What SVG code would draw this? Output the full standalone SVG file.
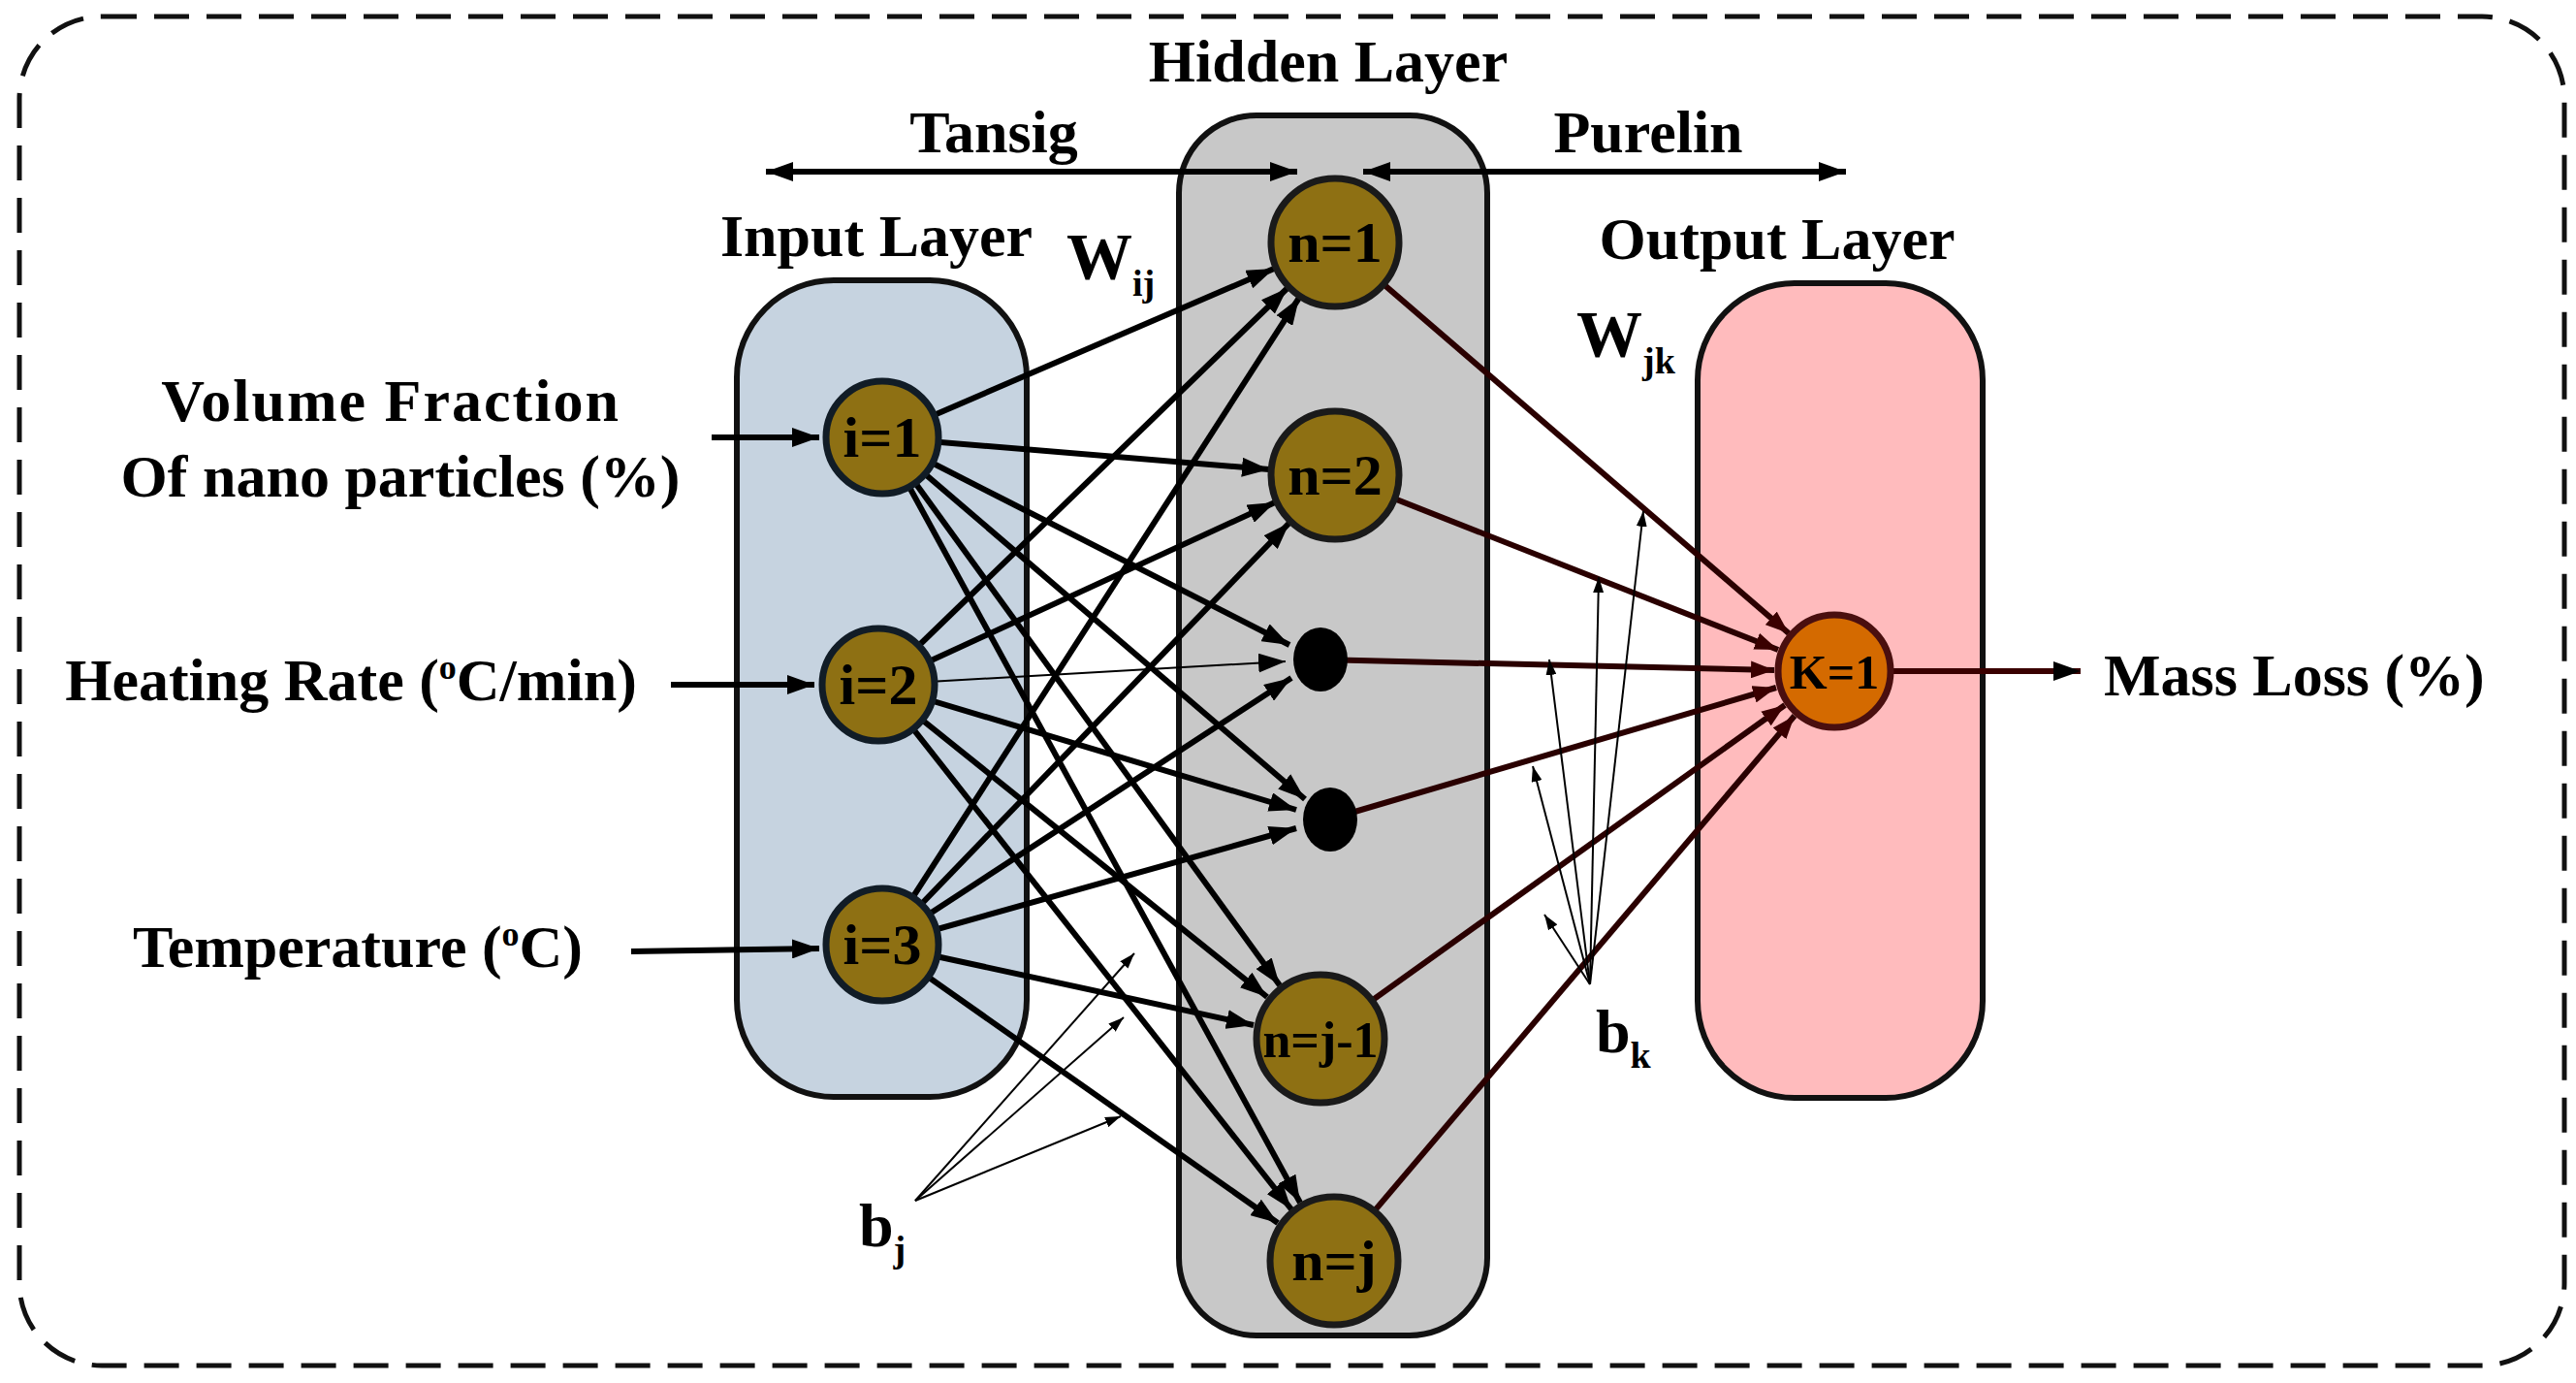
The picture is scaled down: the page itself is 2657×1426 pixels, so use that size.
<svg xmlns="http://www.w3.org/2000/svg" width="2657" height="1426" viewBox="0 0 2657 1426">
<style>
text{font-family:"Liberation Serif","Times New Roman",serif;font-weight:bold;fill:#000}
.lbl{font-size:62px}
.nd{font-size:60px;text-anchor:middle}
.gold{fill:#8E7013;stroke:#111c26;stroke-width:7}
.c{stroke:#000;stroke-width:6;fill:none;marker-end:url(#ah)}
.c2{stroke:#2a0000;stroke-width:6;fill:none;marker-end:url(#ahr)}
.b{stroke:#000;stroke-width:2;fill:none;marker-end:url(#ahs)}
</style>
<defs>
<marker id="ah" viewBox="0 0 10 10" refX="10" refY="5" markerUnits="userSpaceOnUse" markerWidth="28" markerHeight="20" orient="auto-start-reverse" preserveAspectRatio="none"><path d="M0,0L10,5L0,10z" fill="#000"/></marker>
<marker id="ahr" viewBox="0 0 10 10" refX="10" refY="5" markerUnits="userSpaceOnUse" markerWidth="24" markerHeight="18" orient="auto" preserveAspectRatio="none"><path d="M0,0L10,5L0,10z" fill="#3a0000"/></marker>
<marker id="ahs" viewBox="0 0 10 10" refX="10" refY="5" markerUnits="userSpaceOnUse" markerWidth="16" markerHeight="11" orient="auto" preserveAspectRatio="none"><path d="M0,0L10,5L0,10z" fill="#000"/></marker>
</defs>
<rect x="20" y="17" width="2625" height="1391" rx="85" fill="#fff" stroke="#111" stroke-width="5" stroke-dasharray="36 18"/>
<g id="input-layer"><rect x="760" y="289" width="299" height="842" rx="100" fill="#C6D3E0" stroke="#111" stroke-width="6"/><text x="904" y="264" class="lbl" text-anchor="middle">Input Layer</text></g>
<g id="hidden-layer"><rect x="1216" y="119" width="318" height="1258" rx="80" fill="#C8C8C8" stroke="#111" stroke-width="6"/><text x="1370" y="84" class="lbl" text-anchor="middle">Hidden Layer</text></g>
<g id="output-layer"><rect x="1751" y="292" width="294" height="840" rx="100" fill="#FFBBBD" stroke="#111" stroke-width="6"/><text x="1833" y="267" class="lbl" text-anchor="middle">Output Layer</text></g>
<g id="connectors">
<line class="c" x1="1338" y1="177" x2="790" y2="177" style="marker-start:url(#ah)"/>
<line class="c" x1="1406" y1="177" x2="1904" y2="177" style="marker-start:url(#ah)"/>
<line class="c" x1="734" y1="451" x2="845" y2="451"/>
<line class="c" x1="692" y1="706" x2="840" y2="706"/>
<line class="c" x1="651" y1="981" x2="845" y2="978"/>
<line class="c" x1="910" y1="451" x2="1314" y2="277"/>
<line class="c" x1="910" y1="451" x2="1309" y2="484"/>
<line class="c" x1="910" y1="451" x2="1330" y2="665"/>
<line class="c" x1="910" y1="451" x2="1346" y2="824"/>
<line class="c" x1="910" y1="451" x2="1320" y2="1016"/>
<line class="c" x1="910" y1="451" x2="1341" y2="1240"/>
<line class="c" x1="906" y1="706" x2="1328" y2="297"/>
<line class="c" x1="906" y1="706" x2="1315" y2="518"/>
<line class="c" style="stroke-width:2" x1="906" y1="706" x2="1326" y2="682"/>
<line class="c" x1="906" y1="706" x2="1337" y2="835"/>
<line class="c" x1="906" y1="706" x2="1307" y2="1028"/>
<line class="c" x1="906" y1="706" x2="1332" y2="1247"/>
<line class="c" x1="910" y1="974" x2="1340" y2="307"/>
<line class="c" x1="910" y1="974" x2="1330" y2="539"/>
<line class="c" x1="910" y1="974" x2="1332" y2="699"/>
<line class="c" x1="910" y1="974" x2="1337" y2="854"/>
<line class="c" x1="910" y1="974" x2="1293" y2="1057"/>
<line class="c" x1="910" y1="974" x2="1318" y2="1261"/>
<line class="c2" x1="1377" y1="250" x2="1845" y2="653"/>
<line class="c2" x1="1377" y1="490" x2="1834" y2="670"/>
<line class="c2" x1="1360" y1="680" x2="1830" y2="691"/>
<line class="c2" x1="1370" y1="845" x2="1832" y2="709"/>
<line class="c2" x1="1360" y1="1071" x2="1841" y2="727"/>
<line class="c2" x1="1374" y1="1300" x2="1851" y2="738"/>
<line class="c" style="stroke:#3a0000" x1="1950" y1="692" x2="2146" y2="692"/>
<line class="b" x1="944" y1="1238" x2="1170" y2="983"/>
<line class="b" x1="944" y1="1238" x2="1159" y2="1049"/>
<line class="b" x1="944" y1="1238" x2="1156" y2="1151"/>
<line class="b" x1="1640" y1="1015" x2="1695" y2="527"/>
<line class="b" x1="1640" y1="1015" x2="1649" y2="595"/>
<line class="b" x1="1640" y1="1015" x2="1598" y2="680"/>
<line class="b" x1="1640" y1="1015" x2="1581" y2="790"/>
<line class="b" x1="1640" y1="1015" x2="1593" y2="943"/>
</g>
<g id="i1"><circle cx="910" cy="451" r="58" class="gold"/><text x="910" y="471" class="nd">i=1</text></g>
<g id="i2"><circle cx="906" cy="706" r="58" class="gold"/><text x="906" y="726" class="nd">i=2</text></g>
<g id="i3"><circle cx="910" cy="974" r="58" class="gold"/><text x="910" y="994" class="nd">i=3</text></g>
<g id="n1"><circle cx="1377" cy="250" r="66" class="gold" style="stroke:#1a1a1a"/><text x="1377" y="270" class="nd">n=1</text></g>
<g id="n2"><circle cx="1377" cy="490" r="66" class="gold" style="stroke:#1a1a1a"/><text x="1377" y="510" class="nd">n=2</text></g>
<g id="d1"><ellipse cx="1362" cy="680" rx="28" ry="33" fill="#000"/></g>
<g id="d2"><ellipse cx="1372" cy="845" rx="28" ry="33" fill="#000"/></g>
<g id="n5"><circle cx="1362" cy="1071" r="66" class="gold" style="stroke:#1a1a1a"/><text x="1362" y="1090" class="nd" style="font-size:52px">n=j-1</text></g>
<g id="n6"><circle cx="1376" cy="1300" r="66" class="gold" style="stroke:#1a1a1a"/><text x="1376" y="1320" class="nd">n=j</text></g>
<g id="k1"><circle cx="1892" cy="692" r="58" fill="#D46A00" stroke="#4a0f0f" stroke-width="7"/><text x="1892" y="710" class="nd" style="font-size:50px">K=1</text></g>
<g id="labels">
<text x="1025" y="157" class="lbl" text-anchor="middle">Tansig</text>
<text x="1700" y="157" class="lbl" text-anchor="middle">Purelin</text>
<text x="1100" y="287" style="font-size:68px">W<tspan font-size="38" dy="18">ij</tspan></text>
<text x="1626" y="367" style="font-size:68px">W<tspan font-size="38" dy="18">jk</tspan></text>
<text x="403" y="434" class="lbl" text-anchor="middle" letter-spacing="2">Volume Fraction</text>
<text x="413" y="512" class="lbl" text-anchor="middle">Of nano particles (%)</text>
<text x="362" y="722" class="lbl" text-anchor="middle">Heating Rate (<tspan font-size="36" dy="-22">o</tspan><tspan dy="22">C/min)</tspan></text>
<text x="369" y="997" class="lbl" text-anchor="middle">Temperature (<tspan font-size="36" dy="-22">o</tspan><tspan dy="22">C)</tspan></text>
<text x="2170" y="717" class="lbl">Mass Loss (%)</text>
<text x="886" y="1285" style="font-size:64px">b<tspan font-size="38" dy="16">j</tspan></text>
<text x="1646" y="1085" style="font-size:64px">b<tspan font-size="38" dy="16">k</tspan></text>
</g>
</svg>
